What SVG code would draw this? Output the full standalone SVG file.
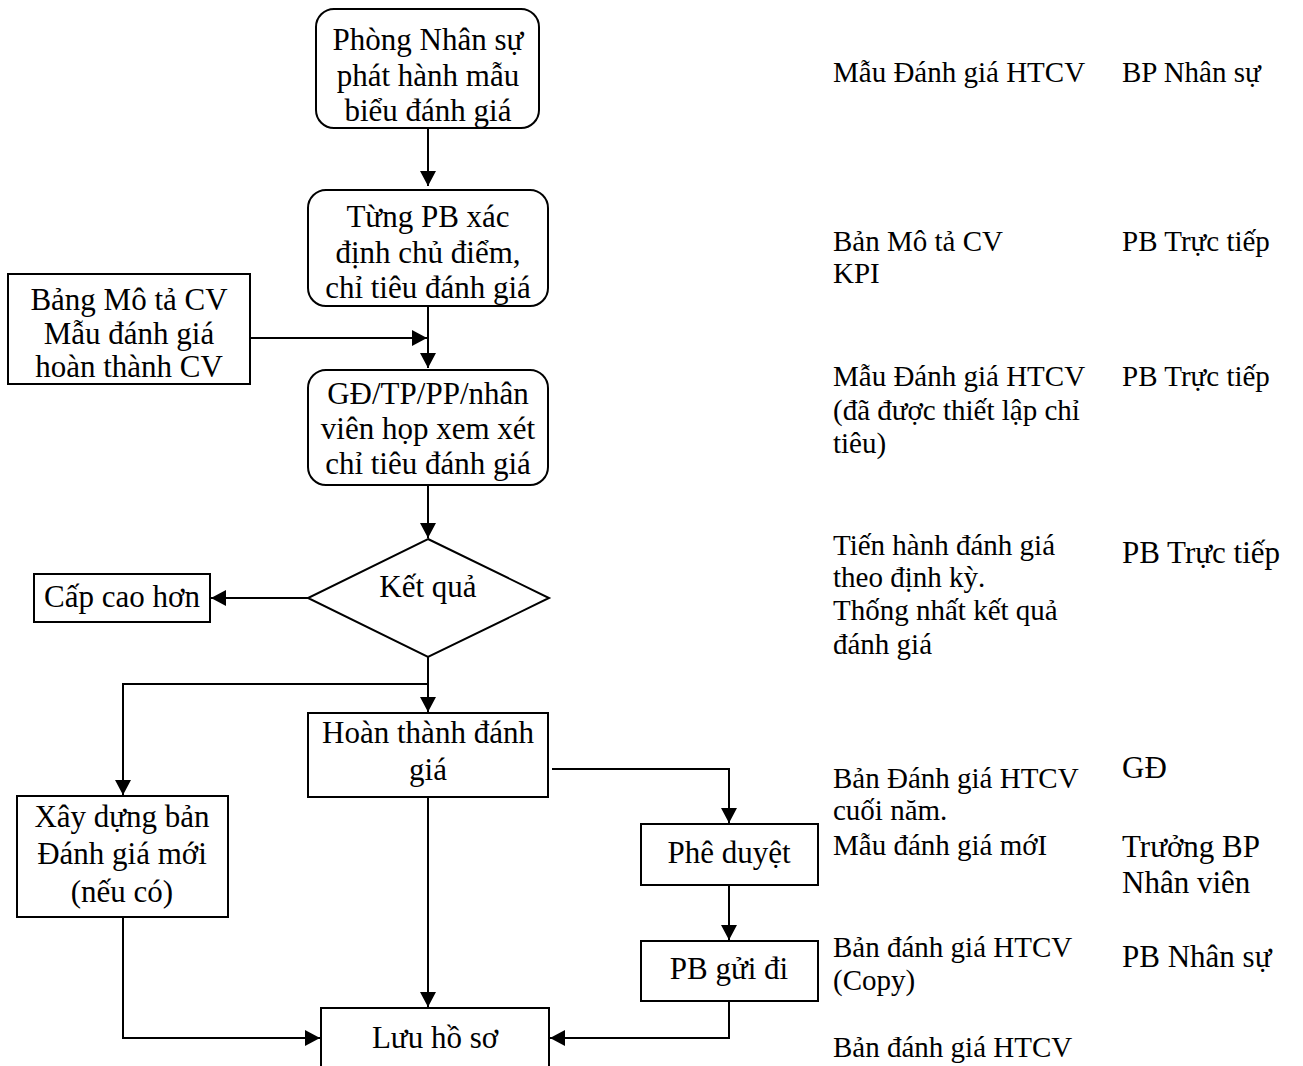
<svg xmlns="http://www.w3.org/2000/svg" width="1303" height="1066" viewBox="0 0 1303 1066">
  <style>
    .box { fill: #fff; stroke: #000; stroke-width: 2; }
    .wire { fill: none; stroke: #000; stroke-width: 2; }
    .t { font-family: "Liberation Serif", "Times New Roman", serif; font-size: 31px; fill: #000; text-anchor: middle; }
    .n { font-family: "Liberation Serif", "Times New Roman", serif; font-size: 29px; fill: #000; }
    .m { font-family: "Liberation Serif", "Times New Roman", serif; font-size: 31px; fill: #000; }
  </style>
  <defs>
    <marker id="arrow" markerUnits="userSpaceOnUse" markerWidth="18" markerHeight="18" refX="15" refY="8" orient="auto">
      <path d="M0,0 L15,8 L0,16 Z" fill="#000"/>
    </marker>
  </defs>
  <rect width="1303" height="1066" fill="#fff"/>

  <!-- connectors -->
  <g id="connectors" class="wire" marker-end="url(#arrow)">
    <path d="M428,128 V186"/>
    <path d="M428,306 V368"/>
    <path d="M250,338 H427"/>
    <path d="M428,485 V538"/>
    <path d="M308,598 H211"/>
    <path d="M428,657 V712"/>
    <path d="M428,684 H123 V795"/>
    <path d="M552,769 H729 V823"/>
    <path d="M729,885 V940"/>
    <path d="M729,1001 V1038 H550"/>
    <path d="M428,797 V1007"/>
    <path d="M123,917 V1038 H320"/>
  </g>

  <!-- process nodes -->
  <g id="issue-form">
    <rect class="box" x="316" y="9" width="223" height="119" rx="18"/>
    <text class="t" x="428" y="50">Phòng Nhân sự</text>
    <text class="t" x="428" y="86">phát hành mẫu</text>
    <text class="t" x="428" y="121">biểu đánh giá</text>
  </g>
  <g id="set-criteria">
    <rect class="box" x="308" y="190" width="240" height="116" rx="18"/>
    <text class="t" x="428" y="227">Từng PB xác</text>
    <text class="t" x="428" y="263">định chủ điểm,</text>
    <text class="t" x="428" y="298">chỉ tiêu đánh giá</text>
  </g>
  <g id="inputs">
    <rect class="box" x="8" y="274" width="242" height="110"/>
    <text class="t" x="129" y="310">Bảng Mô tả CV</text>
    <text class="t" x="129" y="344">Mẫu đánh giá</text>
    <text class="t" x="129" y="377">hoàn thành CV</text>
  </g>
  <g id="review-meeting">
    <rect class="box" x="308" y="370" width="240" height="115" rx="18"/>
    <text class="t" x="428" y="404">GĐ/TP/PP/nhân</text>
    <text class="t" x="428" y="439">viên họp xem xét</text>
    <text class="t" x="428" y="474">chỉ tiêu đánh giá</text>
  </g>
  <g id="result">
    <polygon class="box" points="428,539 549,598 428,657 308,598"/>
    <text class="t" x="428" y="597">Kết quả</text>
  </g>
  <g id="escalate">
    <rect class="box" x="34" y="574" width="176" height="48"/>
    <text class="t" x="122" y="607">Cấp cao hơn</text>
  </g>
  <g id="complete">
    <rect class="box" x="308" y="713" width="240" height="84"/>
    <text class="t" x="428" y="743">Hoàn thành đánh</text>
    <text class="t" x="428" y="780">giá</text>
  </g>
  <g id="new-form">
    <rect class="box" x="17" y="796" width="211" height="121"/>
    <text class="t" x="122" y="827">Xây dựng bản</text>
    <text class="t" x="122" y="864">Đánh giá mới</text>
    <text class="t" x="122" y="902">(nếu có)</text>
  </g>
  <g id="approve">
    <rect class="box" x="641" y="824" width="177" height="61"/>
    <text class="t" x="729" y="863">Phê duyệt</text>
  </g>
  <g id="send">
    <rect class="box" x="641" y="941" width="177" height="60"/>
    <text class="t" x="729" y="979">PB gửi đi</text>
  </g>
  <g id="archive">
    <rect class="box" x="321" y="1008" width="228" height="80"/>
    <text class="t" x="435" y="1048">Lưu hồ sơ</text>
  </g>

  <!-- documents and owners -->
  <g id="records">
    <text class="n" x="833" y="82">Mẫu Đánh giá HTCV</text>
    <text class="n" x="1122" y="82">BP Nhân sự</text>

    <text class="n" x="833" y="251">Bản Mô tả CV</text>
    <text class="n" x="833" y="283">KPI</text>
    <text class="n" x="1122" y="251">PB Trực tiếp</text>

    <text class="n" x="833" y="386">Mẫu Đánh giá HTCV</text>
    <text class="n" x="833" y="420">(đã được thiết lập chỉ</text>
    <text class="n" x="833" y="453">tiêu)</text>
    <text class="n" x="1122" y="386">PB Trực tiếp</text>

    <text class="n" x="833" y="555">Tiến hành đánh giá</text>
    <text class="n" x="833" y="587">theo định kỳ.</text>
    <text class="n" x="833" y="620">Thống nhất kết quả</text>
    <text class="n" x="833" y="654">đánh giá</text>
    <text class="m" x="1122" y="563">PB Trực tiếp</text>

    <text class="n" x="833" y="788">Bản Đánh giá HTCV</text>
    <text class="n" x="833" y="820">cuối năm.</text>
    <text class="n" x="833" y="855">Mẫu đánh giá mớI</text>
    <text class="m" x="1122" y="778">GĐ</text>
    <text class="m" x="1122" y="857">Trưởng BP</text>
    <text class="m" x="1122" y="893">Nhân viên</text>

    <text class="n" x="833" y="957">Bản đánh giá HTCV</text>
    <text class="n" x="833" y="990">(Copy)</text>
    <text class="m" x="1122" y="967">PB Nhân sự</text>

    <text class="n" x="833" y="1057">Bản đánh giá HTCV</text>
  </g>
</svg>
